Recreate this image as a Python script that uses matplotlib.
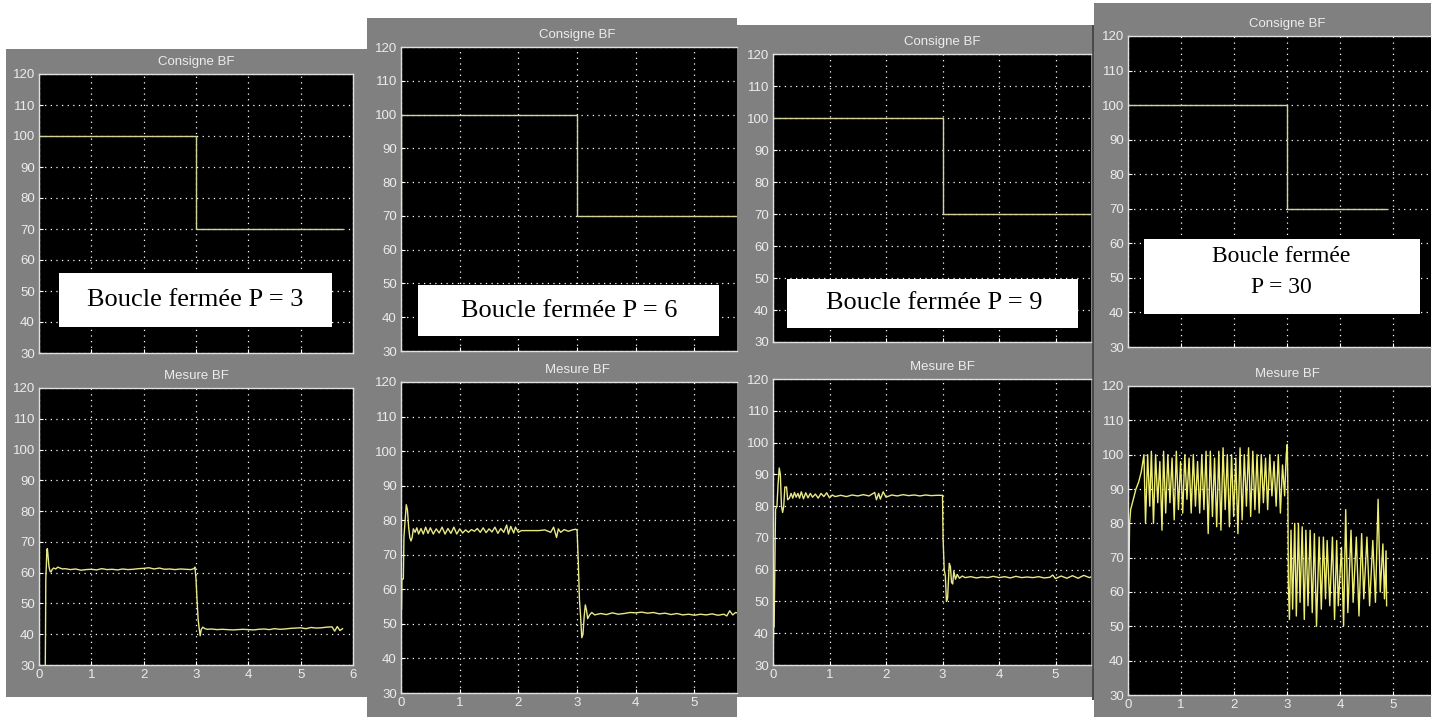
import matplotlib
matplotlib.use("Agg")
import matplotlib.pyplot as plt
from matplotlib.patches import Rectangle
from matplotlib.transforms import blended_transform_factory

# Taille de l'image de reference (pixels)
W, H = 1438, 717

# --- Donnees : consigne (echelon 100 -> 70 a t = 3 s) ---
consigne_p1_t = [0, 3, 3, 5.79]
consigne_p1_y = [100, 100, 70, 70]
consigne_p2_t = [0, 0, 3, 3, 5.8]
consigne_p2_y = [70, 100, 100, 70, 70]
consigne_p3_t = [0, 3, 3, 5.8]
consigne_p3_y = [100, 100, 70, 70]
consigne_p4_t = [0, 3, 3, 4.86]
consigne_p4_y = [100, 100, 70, 70]

mesure_p1 = [
    (0.12, 30), (0.125, 42), (0.13, 58), (0.14, 62), (0.15, 67.5), (0.16, 67.8), (0.17, 66),
    (0.19, 62), (0.21, 60.5), (0.23, 60.2), (0.25, 61), (0.28, 61.5), (0.32, 61.2), (0.36, 61.8),
    (0.40, 61.5), (0.45, 61.2), (0.50, 61.3), (0.60, 61.0), (0.70, 61.2), (0.80, 60.8), (0.90, 61.0),
    (1.00, 61.1), (1.10, 60.9), (1.20, 61.3), (1.30, 61.0), (1.40, 61.1), (1.50, 60.9), (1.60, 61.2),
    (1.70, 61.0), (1.80, 61.1), (1.90, 61.3), (2.00, 61.4), (2.10, 61.6), (2.20, 61.2), (2.30, 61.5),
    (2.40, 61.1), (2.50, 61.2), (2.60, 61.0), (2.70, 61.2), (2.80, 61.1), (2.90, 61.0), (2.96, 61.3),
    (2.98, 61.8), (3.00, 58), (3.02, 51), (3.04, 45), (3.06, 42), (3.08, 39.5), (3.10, 41.5),
    (3.13, 42.3), (3.17, 41.8), (3.22, 41.6), (3.30, 41.7), (3.40, 41.5), (3.50, 41.6), (3.60, 41.5),
    (3.70, 41.4), (3.80, 41.5), (3.90, 41.6), (4.00, 41.5), (4.10, 41.4), (4.20, 41.6), (4.30, 41.7),
    (4.40, 41.5), (4.50, 41.8), (4.60, 41.6), (4.70, 41.7), (4.80, 41.9), (4.90, 42.0), (5.00, 42.1),
    (5.10, 41.8), (5.20, 42.2), (5.30, 42.0), (5.40, 42.1), (5.50, 42.3), (5.60, 42.4), (5.65, 41.0),
    (5.70, 42.5), (5.75, 41.2), (5.80, 41.8),
]
mesure_p2 = [
    (0.0, 52), (0.01, 55), (0.015, 63), (0.04, 63), (0.05, 75), (0.07, 80), (0.09, 84.5), (0.11, 83),
    (0.13, 78), (0.15, 75), (0.17, 74), (0.19, 75), (0.21, 77.5), (0.24, 76.5), (0.27, 77.8),
    (0.30, 76), (0.34, 77.6), (0.38, 76), (0.42, 78), (0.46, 76.2), (0.50, 77.8), (0.55, 76),
    (0.60, 77.5), (0.65, 76.3), (0.70, 78), (0.75, 76), (0.80, 77.6), (0.85, 76.2), (0.90, 78),
    (0.95, 76), (1.00, 77.5), (1.05, 76.3), (1.10, 77.2), (1.15, 76.5), (1.20, 77.3), (1.25, 76.8),
    (1.30, 77.6), (1.35, 76.5), (1.40, 77.8), (1.45, 76.4), (1.50, 77.5), (1.55, 76.6), (1.60, 78),
    (1.65, 76.2), (1.70, 77.6), (1.75, 76.5), (1.80, 78.6), (1.83, 76), (1.87, 78.2), (1.92, 76.3),
    (1.95, 78), (2.00, 76.5), (2.05, 77), (2.20, 77), (2.35, 77), (2.45, 77.2), (2.55, 76.5),
    (2.60, 78), (2.65, 75), (2.68, 77.5), (2.72, 76.5), (2.78, 77.3), (2.85, 76.8), (2.92, 77.2),
    (2.98, 77.4), (3.00, 77), (3.02, 68), (3.04, 57), (3.06, 52), (3.08, 46), (3.10, 47), (3.12, 52),
    (3.14, 55.5), (3.16, 54), (3.18, 51.5), (3.21, 52.5), (3.25, 53.3), (3.30, 52.6), (3.40, 53),
    (3.50, 52.7), (3.60, 53.2), (3.70, 52.8), (3.80, 53), (3.90, 53.3), (4.00, 53.2), (4.10, 53.4),
    (4.20, 53.1), (4.30, 53.3), (4.40, 52.9), (4.50, 53.1), (4.60, 52.7), (4.70, 53), (4.80, 52.6),
    (4.90, 52.8), (5.00, 52.5), (5.10, 52.8), (5.20, 52.6), (5.30, 52.9), (5.40, 52.5), (5.50, 52.8),
    (5.55, 52.3), (5.60, 53.8), (5.65, 52.6), (5.70, 53.3), (5.80, 52.8),
]
mesure_p3 = [
    (0.0, 30), (0.01, 42), (0.02, 42), (0.03, 57), (0.045, 79), (0.07, 80), (0.09, 87), (0.11, 92),
    (0.13, 90), (0.15, 80), (0.17, 78), (0.19, 80), (0.21, 86), (0.24, 86), (0.26, 82), (0.29, 82.5),
    (0.32, 84), (0.35, 82.5), (0.38, 84.3), (0.41, 82.8), (0.44, 84), (0.47, 82.5), (0.50, 84.5),
    (0.54, 82.3), (0.58, 84.2), (0.62, 82.6), (0.66, 84), (0.70, 82.8), (0.75, 83.8), (0.80, 82.5),
    (0.85, 84), (0.90, 83), (0.95, 84.2), (1.00, 82.6), (1.05, 83.5), (1.10, 83), (1.20, 83.4),
    (1.30, 83), (1.40, 83.5), (1.50, 83.2), (1.60, 83.6), (1.70, 83.2), (1.80, 84.3), (1.83, 82),
    (1.87, 84), (1.90, 82.2), (1.95, 84.5), (2.00, 82.8), (2.10, 83.5), (2.20, 83.2), (2.30, 83.6),
    (2.40, 83.3), (2.50, 83.5), (2.60, 83.2), (2.70, 83.5), (2.80, 83.3), (2.90, 83.4), (3.00, 83.4),
    (3.01, 70), (3.03, 60), (3.05, 58), (3.07, 50), (3.09, 51), (3.12, 62), (3.14, 61), (3.16, 56),
    (3.18, 55.5), (3.20, 59.5), (3.23, 57), (3.26, 58.5), (3.30, 57.3), (3.35, 58), (3.40, 57.5),
    (3.50, 57.8), (3.60, 57.4), (3.70, 57.7), (3.80, 57.5), (3.90, 57.9), (4.00, 57.5), (4.10, 57.8),
    (4.20, 57.4), (4.30, 57.9), (4.40, 57.5), (4.50, 57.7), (4.60, 57.5), (4.70, 57.8), (4.80, 57.4),
    (4.90, 57.6), (4.95, 58.3), (5.00, 57.2), (5.10, 58), (5.20, 57.3), (5.30, 58.1), (5.40, 57.3),
    (5.50, 58.2), (5.60, 57.5), (5.70, 58.3),
]
mesure_p4 = [
    (0.0, 30), (0.01, 56), (0.03, 80), (0.05, 84), (0.10, 87), (0.15, 90), (0.20, 92), (0.25, 95),
    (0.30, 100), (0.33, 80), (0.37, 100), (0.41, 85), (0.44, 101), (0.48, 80), (0.52, 100),
    (0.56, 86), (0.60, 98), (0.64, 78), (0.67, 101), (0.71, 83), (0.75, 100), (0.79, 86), (0.83, 99),
    (0.87, 81), (0.91, 101), (0.95, 84), (0.99, 98), (1.03, 83), (1.07, 100), (1.11, 87), (1.15, 99),
    (1.19, 83), (1.23, 100), (1.27, 85), (1.31, 98), (1.35, 83), (1.39, 100), (1.43, 84),
    (1.47, 101), (1.51, 77), (1.55, 101), (1.59, 82), (1.63, 99), (1.67, 79), (1.71, 101),
    (1.75, 78), (1.79, 102), (1.83, 84), (1.87, 100), (1.91, 79), (1.95, 100), (1.99, 82),
    (2.03, 99), (2.07, 77), (2.11, 102), (2.15, 81), (2.19, 100), (2.23, 85), (2.27, 102),
    (2.31, 82), (2.35, 101), (2.39, 84), (2.43, 100), (2.47, 83), (2.51, 100), (2.55, 86),
    (2.59, 99), (2.63, 84), (2.67, 100), (2.71, 88), (2.75, 98), (2.79, 85), (2.83, 100), (2.87, 83),
    (2.91, 97), (2.95, 88), (2.98, 100), (3.00, 103), (3.01, 90), (3.02, 62), (3.04, 52), (3.07, 78),
    (3.10, 55), (3.14, 80), (3.17, 53), (3.21, 80), (3.24, 57), (3.28, 79), (3.32, 52), (3.35, 78),
    (3.39, 56), (3.43, 78), (3.47, 54), (3.51, 77), (3.55, 50), (3.60, 76), (3.64, 55), (3.68, 76),
    (3.72, 58), (3.75, 75), (3.80, 56), (3.85, 76), (3.89, 52), (3.93, 75), (3.96, 56), (4.02, 73),
    (4.06, 50), (4.10, 84), (4.14, 54), (4.20, 78), (4.24, 57), (4.30, 76), (4.35, 53), (4.40, 77),
    (4.44, 58), (4.50, 76), (4.55, 56), (4.61, 75), (4.66, 57), (4.71, 87), (4.75, 60), (4.80, 74),
    (4.83, 58), (4.86, 72), (4.87, 56),
]

titres_haut = "Consigne BF"
titres_bas = "Mesure BF"
etiquettes = ["Boucle fermée P = 3", "Boucle fermée P = 6", "Boucle fermée P = 9",
              ["Boucle fermée", "P = 30"]]

GRIS = "#808080"
TXT = "#ececec"
C_CONS = "#d2d29c"
C_MES = "#e8e888"

plt.rcParams['font.family'] = ['Liberation Sans Narrow', 'Liberation Sans', 'DejaVu Sans']

fig = plt.figure(figsize=(W / 100, H / 100), dpi=100)
fig.patch.set_facecolor("white")


def rect_px(l, t, r, b, color, z):
    fig.add_artist(Rectangle((l / W, 1 - b / H), (r - l) / W, (b - t) / H,
                             transform=fig.transFigure, facecolor=color,
                             edgecolor="none", zorder=z))


def axes_px(l, t, r, b, xmax, titre, xlabels, cut_right):
    ax = fig.add_axes([l / W, 1 - b / H, (r - l) / W, (b - t) / H])
    ax.set_facecolor("black")
    ax.set_xlim(0, xmax)
    ax.set_ylim(30, 120)
    ax.set_xticks([x for x in range(0, 7) if x <= xmax])
    ax.set_yticks(range(30, 121, 10))
    ax.grid(True, color="white", linestyle=(0, (1, 3.5)), linewidth=0.9)
    ax.tick_params(direction="in", length=3, color="white", labelcolor=TXT,
                   labelsize=9.5, pad=3)
    if not xlabels:
        ax.tick_params(axis="x", labelbottom=False)
    for s in ax.spines.values():
        s.set_color("#e0e0e0")
        s.set_linewidth(1)
    if cut_right:
        ax.spines["right"].set_visible(False)
    trans = blended_transform_factory(ax.transData, ax.transAxes)
    ax.text(3, 1 + 12 / (b - t), titre, transform=trans, ha="center", va="center",
            color=TXT, fontsize=9.5, clip_on=False)
    return ax


# --- fonds gris des quatre captures ---
rect_px(6, 49, 367, 697, GRIS, -2)
rect_px(367, 18, 737, 717, GRIS, -2)
rect_px(737, 25, 1092, 697, GRIS, -2)
rect_px(1092, 25, 1096, 700, "#4a4a4a", -2)
rect_px(1094, 3, 1431, 717, GRIS, -2)

# --- Panneau 1 (P = 3) ---
a = axes_px(39, 74, 353, 353, 6, titres_haut, False, False)
a.plot(consigne_p1_t, consigne_p1_y, color=C_CONS, lw=1.0)
b = axes_px(39, 388, 353, 665, 6, titres_bas, True, False)
t, y = zip(*mesure_p1)
b.plot(t, y, color=C_MES, lw=1.0)

# --- Panneau 2 (P = 6) ---
a = axes_px(401, 47, 737, 351, 336 / 58.7, titres_haut, False, True)
a.plot(consigne_p2_t, consigne_p2_y, color=C_CONS, lw=1.0)
b = axes_px(401, 382, 737, 693, 336 / 58.7, titres_bas, True, True)
t, y = zip(*mesure_p2)
b.plot(t, y, color=C_MES, lw=1.0)

# --- Panneau 3 (P = 9) ---
a = axes_px(773, 54, 1091, 342, 318 / 56.5, titres_haut, False, True)
a.plot(consigne_p3_t, consigne_p3_y, color=C_CONS, lw=1.0)
b = axes_px(773, 379, 1091, 665, 318 / 56.5, titres_bas, True, True)
t, y = zip(*mesure_p3)
b.plot(t, y, color=C_MES, lw=1.0)

# --- Panneau 4 (P = 30) ---
a = axes_px(1128, 36, 1431, 347, 303 / 53.1, titres_haut, False, True)
a.plot(consigne_p4_t, consigne_p4_y, color=C_CONS, lw=1.0)
b = axes_px(1128, 386, 1431, 695, 303 / 53.1, titres_bas, True, True)
t, y = zip(*mesure_p4)
b.plot(t, y, color="#eeee70", lw=1.0)

# --- cartouches blancs ---
boites = [(59, 273, 332, 327), (418, 285, 719, 336), (787, 279, 1078, 328), (1144, 239, 1420, 314)]
for (l, tp, r, bt) in boites:
    rect_px(l, tp, r, bt, "white", 5)

serif = ['Liberation Serif', 'DejaVu Serif']
fig.text(195 / W, 1 - 300 / H, etiquettes[0], ha="center", va="center",
         fontsize=19, family=serif, color="black", zorder=6)
fig.text(569 / W, 1 - 311 / H, etiquettes[1], ha="center", va="center",
         fontsize=19, family=serif, color="black", zorder=6)
fig.text(934 / W, 1 - 303 / H, etiquettes[2], ha="center", va="center",
         fontsize=19, family=serif, color="black", zorder=6)
fig.text(1281 / W, 1 - 257 / H, etiquettes[3][0], ha="center", va="center",
         fontsize=17, family=serif, color="black", zorder=6)
fig.text(1281 / W, 1 - 288 / H, etiquettes[3][1], ha="center", va="center",
         fontsize=17, family=serif, color="black", zorder=6)

fig.savefig("out.png", dpi=100, facecolor="white")
